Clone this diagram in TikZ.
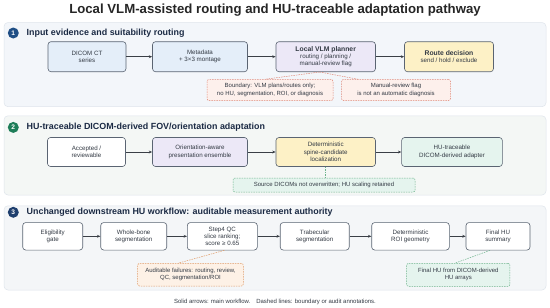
\documentclass[tikz,border=0pt]{standalone}
\usepackage{fontspec}
\setmainfont{Liberation Sans}
\usetikzlibrary{arrows.meta,calc}
\definecolor{panelA}{HTML}{F3F6FA}
\definecolor{panelB}{HTML}{F4F7F5}
\definecolor{panelC}{HTML}{F4F6F8}
\definecolor{panelEdge}{HTML}{DFE5EC}
\definecolor{boxEdge}{HTML}{5A6472}
\definecolor{txt}{HTML}{333A44}
\definecolor{head}{HTML}{1B2A44}
\definecolor{fillBlue}{HTML}{E4EEF9}
\definecolor{fillPurple}{HTML}{ECE8F7}
\definecolor{fillYellow}{HTML}{FDF1C6}
\definecolor{fillGreen}{HTML}{E5F4EE}
\definecolor{fillRed}{HTML}{FDF0EC}
\definecolor{edgeRed}{HTML}{E08878}
\definecolor{fillOrange}{HTML}{FDF1E6}
\definecolor{edgeOrange}{HTML}{E09A66}
\definecolor{edgeGreen}{HTML}{6DB48C}
\definecolor{numA}{HTML}{1F4E85}
\definecolor{numB}{HTML}{1E7D58}
\definecolor{numC}{HTML}{1F3F6E}
\definecolor{arrowc}{HTML}{3A3F46}
\begin{document}
\begin{tikzpicture}[x=1pt,y=-1pt,
  panel/.style={draw=panelEdge, line width=0.5pt, rounded corners=4pt},
  numdot/.style={circle, inner sep=0pt, minimum size=11pt, text=white, font=\fontsize{6.6}{6.6}\selectfont\bfseries},
  header/.style={anchor=west, text=head, font=\fontsize{8.9}{9}\selectfont\bfseries, inner sep=0pt},
  box/.style={draw=boxEdge, rounded corners=3pt, line width=0.6pt, align=center, text=txt,
    font=\fontsize{6.2}{7.3}\selectfont, inner sep=1pt},
  note/.style={draw, rounded corners=2pt, line width=0.5pt, dash pattern=on 1.5pt off 1pt, align=center, text=txt,
    font=\fontsize{6}{7.2}\selectfont, inner sep=1pt},
  flow/.style={-{Stealth[length=3.4pt,width=2.8pt]}, draw=arrowc, line width=0.6pt},
  link/.style={line width=0.5pt, dash pattern=on 1.5pt off 1pt}
]
\useasboundingbox[fill=white] (0,0) rectangle (550,308);

% title
\node[font=\fontsize{13.2}{14}\selectfont\bfseries, text=black!85] (title) at (275,10.5) {Local VLM-assisted routing and HU-traceable adaptation pathway};

% ===== Panel 1 =====
\draw[panel, fill=panelA] (4,22.5) rectangle (546,106.7);
\node[numdot, fill=numA] (d1) at (13.3,33) {1};
\node[header] (h1) at (26.5,33) {Input evidence and suitability routing};

\node[box, fill=fillBlue, minimum width=78pt, minimum height=30pt] (a1) at (87,56.7) {DICOM CT\\series};
\node[box, fill=fillBlue, minimum width=95pt, minimum height=30pt] (a2) at (200,56.7) {Metadata\\+ 3×3 montage};
\node[box, fill=fillPurple, minimum width=99.5pt, minimum height=30pt] (a3) at (325.7,56.7) {{\fontsize{6.8}{7.3}\selectfont\bfseries Local VLM planner}\\routing / planning /\\manual-review flag};
\node[box, fill=fillYellow, minimum width=89pt, minimum height=30pt] (a4) at (449,56.7) {{\fontsize{6.8}{7.3}\selectfont\bfseries Route decision}\\send / hold / exclude};
\draw[flow] (a1) -- (a2);
\draw[flow] (a2) -- (a3);
\draw[flow] (a3) -- (a4);

\node[note, draw=edgeRed, fill=fillRed, minimum width=126pt, minimum height=21pt] (n1) at (270,90) {Boundary: VLM plans/routes only;\\no HU, segmentation, ROI, or diagnosis};
\node[note, draw=edgeRed, fill=fillRed, minimum width=109pt, minimum height=21pt] (n2) at (396,90) {Manual-review flag\\is not an automatic diagnosis};
\coordinate (a3b) at ($(a3.south)+(-6,0)$);
\draw[link, draw=edgeRed] (a3b) -- ($(n1.north)+(-5,0)$);
\draw[link, draw=edgeRed] (a3b) -- ($(n2.north)+(-38,0)$);

% ===== Panel 2 =====
\draw[panel, fill=panelB] (4,115.8) rectangle (546,195);
\node[numdot, fill=numB] (d2) at (13.3,127.4) {2};
\node[header] (h2) at (26.5,127.4) {HU-traceable DICOM-derived FOV/orientation adaptation};

\node[box, fill=white, minimum width=78pt, minimum height=29pt] (b1) at (86.5,152) {Accepted /\\reviewable};
\node[box, fill=fillPurple, minimum width=95pt, minimum height=29pt] (b2) at (200,152) {Orientation-aware\\presentation ensemble};
\node[box, fill=fillYellow, minimum width=99.5pt, minimum height=29pt] (b3) at (325.7,152) {Deterministic\\spine-candidate\\localization};
\node[box, fill=fillGreen, minimum width=100.7pt, minimum height=29pt] (b4) at (452,152) {HU-traceable\\DICOM-derived adapter};
\draw[flow] (b1) -- (b2);
\draw[flow] (b2) -- (b3);
\draw[flow] (b3) -- (b4);

\node[note, draw=edgeGreen, fill=fillGreen, minimum width=182pt, minimum height=14pt] (n3) at (324,185) {Source DICOMs not overwritten; HU scaling retained};
\draw[link, draw=edgeGreen] (b3.south) -- (b3.south |- n3.north);

% ===== Panel 3 =====
\draw[panel, fill=panelC] (4,205.8) rectangle (546,290);
\node[numdot, fill=numC] (d3) at (13.3,212.3) {3};
\node[header] (h3) at (26.5,212.3) {Unchanged downstream HU workflow: auditable measurement authority};

\node[box, fill=white, minimum width=60pt, minimum height=27.5pt] (c1) at (52.7,236.3) {Eligibility\\gate};
\node[box, fill=white, minimum width=66pt, minimum height=27.5pt] (c2) at (133.7,236.3) {Whole-bone\\segmentation};
\node[box, fill=white, minimum width=70pt, minimum height=27.5pt] (c3) at (222.3,236.3) {Step4 QC\\slice ranking;\\score ≥ 0.65};
\node[box, fill=white, minimum width=69pt, minimum height=27.5pt] (c4) at (314.7,236.3) {Trabecular\\segmentation};
\node[box, fill=white, minimum width=77.6pt, minimum height=27.5pt] (c5) at (410.5,236.3) {Deterministic\\ROI geometry};
\node[box, fill=white, minimum width=64pt, minimum height=27.5pt] (c6) at (498,236.3) {Final HU\\summary};
\draw[flow] (c1) -- (c2);
\draw[flow] (c2) -- (c3);
\draw[flow] (c3) -- (c4);
\draw[flow] (c4) -- (c5);
\draw[flow] (c5) -- (c6);

\node[note, draw=edgeOrange, fill=fillOrange, minimum width=105.6pt, minimum height=22.7pt] (n4) at (190.5,274.7) {Auditable failures: routing, review,\\QC, segmentation/ROI};
\node[note, draw=edgeGreen, fill=fillGreen, minimum width=103.3pt, minimum height=23pt] (n5) at (458.3,274.8) {Final HU from DICOM-derived\\HU arrays};
\draw[link, draw=edgeOrange] ($(c3.south)+(2,0)$) -- ($(n4.north)+(-12,0)$);
\draw[link, draw=edgeGreen] ($(c6.south)+(-8,0)$) -- ($(n5.north)+(-3,0)$);

% footer
\node[font=\fontsize{6}{7}\selectfont, text=txt] (foot) at (275,302) {Solid arrows: main workflow.\quad Dashed lines: boundary or audit annotations.};
\end{tikzpicture}
\end{document}
